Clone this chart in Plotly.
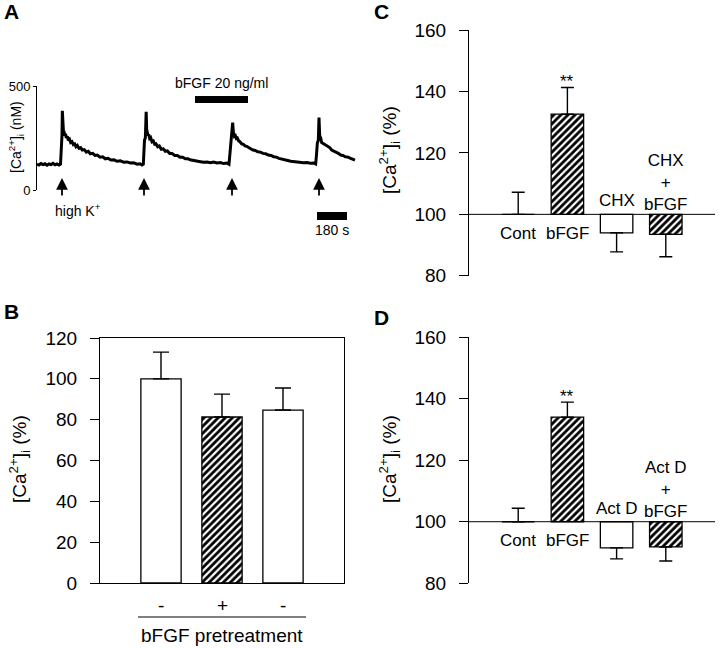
import plotly.graph_objects as go

W, H = 720, 648
FONT = "Liberation Sans, Arial, sans-serif"

# ---------------- Panel A data (trace) ----------------
trace_t = [0, 12, 24, 36, 48, 60, 72, 84, 96, 108, 120, 132, 141,
           144, 147, 150, 152, 154, 156, 159, 162, 166, 171, 176, 182, 188, 195, 202, 210, 218, 226, 234, 242,
           252, 262, 272, 284, 296, 308, 320, 334, 348, 362, 378, 394, 410, 426, 444, 462, 480, 500, 520, 540,
           560, 580, 600, 618, 630, 638,
           641, 645, 650, 655, 658, 662, 666, 670, 676, 682, 690, 698, 706, 714, 724, 734, 746, 758, 770, 782,
           796, 810, 826, 842, 858, 874, 890, 906, 924, 942, 960, 980, 1000, 1020, 1040, 1060, 1080, 1100,
           1120, 1140, 1152,
           1156, 1160, 1166, 1174, 1179, 1184, 1190, 1196, 1202, 1210, 1218, 1228, 1238, 1248, 1258, 1270,
           1282, 1296, 1310, 1324, 1340, 1356, 1372, 1388, 1404, 1420, 1436, 1452, 1468, 1486, 1504, 1522,
           1540, 1560, 1580, 1600, 1620, 1640, 1660, 1672,
           1677, 1682, 1688, 1692, 1696, 1702, 1708, 1716, 1726, 1736, 1746, 1756, 1768, 1780, 1794, 1808,
           1822, 1836, 1850, 1866, 1882, 1898, 1908]
trace_ca = [124, 120, 127, 122, 126, 119, 125, 122, 128, 121, 125, 120, 124,
            170, 245, 265, 381, 300, 292, 276, 282, 262, 270, 250, 258, 238, 244, 228, 232, 218, 222, 208, 214,
            200, 204, 192, 194, 182, 186, 174, 176, 166, 168, 158, 160, 150, 152, 144, 145, 138, 140, 134, 135,
            130, 131, 124, 126, 120, 124,
            175, 240, 250, 376, 290, 280, 262, 268, 248, 252, 232, 236, 220, 222, 208, 212, 196, 198, 186, 188,
            176, 176, 166, 166, 158, 158, 150, 150, 144, 142, 138, 136, 133, 135, 131, 134, 130, 132,
            127, 130, 124,
            160, 230, 255, 324, 270, 258, 262, 248, 250, 236, 232, 222, 220, 212, 210, 202,
            198, 192, 190, 184, 182, 176, 174, 168, 166, 160, 158, 152, 150, 145, 142, 138,
            136, 134, 134, 131, 132, 129, 130, 125,
            170, 225, 240, 348, 262, 250, 228, 224, 216, 212, 205, 204, 192, 188, 180, 176,
            168, 166, 160, 158, 152, 148, 144]
stim_t = [150, 642, 1170, 1692]          # high K+ application (s)
bfgf_window = [948, 1266]                # bFGF 20 ng/ml (s)
scale_bar = [1680, 1860]                 # 180 s

# ---------------- Panel B data ----------------
b_x = [1, 2, 3]
b_ticks = ["-", "+", "-"]
b_vals = [100, 81.3, 84.7]
b_err = [13.1, 11.2, 10.8]
b_hatch = [False, True, False]

# ---------------- Panel C data ----------------
c_x = [1, 2, 3, 4]
c_labels = ["Cont", "bFGF", "CHX", "CHX<br>+<br>bFGF"]
c_vals = [100, 132.6, 94.0, 93.5]
c_err = [7.2, 8.7, 6.2, 7.3]
c_hatch = [False, True, False, True]

# ---------------- Panel D data ----------------
d_x = [1, 2, 3, 4]
d_labels = ["Cont", "bFGF", "Act D", "Act D<br>+<br>bFGF"]
d_vals = [100, 134.0, 91.5, 91.8]
d_err = [4.4, 4.9, 3.6, 4.6]
d_hatch = [False, True, False, True]


def px(x):
    return x / W


def py(y):
    return 1 - y / H


fig = go.Figure()

# Panel A trace
fig.add_trace(go.Scatter(x=trace_t, y=trace_ca, mode="lines",
                         line=dict(color="black", width=3), xaxis="x", yaxis="y",
                         hoverinfo="skip"))


def add_bars(xs, vals, errs, hatch, xa, ya, base, capw):
    for xi, v, e, h in zip(xs, vals, errs, hatch):
        d = v - base
        up = e if d >= 0 else 0
        dn = 0 if d >= 0 else e
        fig.add_trace(go.Bar(
            x=[xi], y=[d], base=base, width=0.66, xaxis=xa, yaxis=ya,
            marker=dict(color="white", line=dict(color="black", width=1.3),
                        pattern=dict(shape="/" if h else "", fgcolor="black", fgopacity=1,
                                     bgcolor="white", size=5, solidity=0.55)),
            error_y=dict(type="data", symmetric=False, array=[up], arrayminus=[dn],
                         color="black", thickness=1.4, width=capw),
        ))


add_bars(b_x, b_vals, b_err, b_hatch, "x2", "y2", 0, 8)
add_bars(c_x, c_vals, c_err, c_hatch, "x3", "y3", 100, 6.5)
add_bars(d_x, d_vals, d_err, d_hatch, "x4", "y4", 100, 6.5)

axis_common = dict(showgrid=False, zeroline=False, linecolor="black", linewidth=1,
                   tickcolor="black", tickfont=dict(family=FONT, size=19, color="black"))

layout = dict(
    width=W, height=H, margin=dict(l=0, r=0, t=0, b=0, autoexpand=False),
    paper_bgcolor="white", plot_bgcolor="rgba(0,0,0,0)", showlegend=False,
    font=dict(family=FONT, color="black"), barmode="overlay",
    xaxis=dict(domain=[px(37), px(360)], range=[0, 1938], visible=False, anchor="y"),
    yaxis=dict(domain=[py(190), py(86)], range=[0, 500], showline=True, ticks="outside",
               ticklen=3, tickvals=[0, 500], anchor="x",
               **{**axis_common, "tickfont": dict(family=FONT, size=13, color="black")}),
    xaxis2=dict(domain=[px(100), px(344)], range=[0, 4], showline=True, mirror=True,
                ticks="", showticklabels=False, anchor="y2", **axis_common),
    yaxis2=dict(domain=[py(583), py(338)], range=[0, 120], showline=True, mirror=True,
                ticks="outside", ticklen=9, dtick=20, anchor="x2", ticklabelstandoff=9,
                **axis_common),
    xaxis3=dict(domain=[px(469), px(715)], range=[0, 5], visible=False, anchor="y3"),
    yaxis3=dict(domain=[py(275.8), py(30)], range=[80, 160], showline=True,
                ticks="outside", ticklen=9, dtick=20, anchor="x3", ticklabelstandoff=9,
                **axis_common),
    xaxis4=dict(domain=[px(469), px(715)], range=[0, 5], visible=False, anchor="y4"),
    yaxis4=dict(domain=[py(583.2), py(337.3)], range=[80, 160], showline=True,
                ticks="outside", ticklen=9, dtick=20, anchor="x4", ticklabelstandoff=9,
                **axis_common),
)
fig.update_layout(**layout)

shapes = []
annotations = []


def note(**kw):
    d = dict(showarrow=False, xanchor="center", yanchor="middle")
    d.update(kw)
    annotations.append(d)


# Panel letters
for letter, (lx, ly) in zip("ABCD", [(11, 12), (11, 311), (381, 12), (381, 317)]):
    note(text="<b>%s</b>" % letter, x=px(lx), y=py(ly), xref="paper", yref="paper",
         font=dict(size=21, family=FONT))

ca_title = "[Ca<sup>2+</sup>]<sub>i</sub>"
# Axis titles
note(text=ca_title + " (nM)", x=px(16), y=py(137), xref="paper", yref="paper",
     textangle=-90, font=dict(size=14, family=FONT))
note(text=ca_title + " (%)", x=px(19), y=py(459), xref="paper", yref="paper",
     textangle=-90, font=dict(size=19, family=FONT))
note(text=ca_title + " (%)", x=px(389), y=py(150), xref="paper", yref="paper",
     textangle=-90, font=dict(size=19, family=FONT))
note(text=ca_title + " (%)", x=px(389), y=py(459), xref="paper", yref="paper",
     textangle=-90, font=dict(size=19, family=FONT))

# Panel A decorations
for t in stim_t:
    annotations.append(dict(text="", x=t, xref="x", y=py(178), yref="paper", showarrow=True,
                            ax=0, ay=19, axref="pixel", ayref="pixel", arrowhead=2, arrowsize=1.3,
                            arrowwidth=1.8, arrowcolor="black"))
note(text="high K<sup>+</sup>", x=stim_t[0], xref="x", y=py(210), yref="paper",
     xshift=16, font=dict(size=14, family=FONT))
shapes.append(dict(type="rect", xref="x", yref="paper", x0=bfgf_window[0], x1=bfgf_window[1],
                   y0=py(103), y1=py(96), fillcolor="black", line=dict(width=0)))
note(text="bFGF 20 ng/ml", x=(bfgf_window[0] + bfgf_window[1]) / 2, xref="x",
     y=py(83), yref="paper", font=dict(size=14, family=FONT))
shapes.append(dict(type="rect", xref="x", yref="paper", x0=scale_bar[0], x1=scale_bar[1],
                   y0=py(220), y1=py(212), fillcolor="black", line=dict(width=0)))
note(text="%d s" % (scale_bar[1] - scale_bar[0]), x=(scale_bar[0] + scale_bar[1]) / 2,
     xref="x", y=py(230), yref="paper", font=dict(size=14, family=FONT))

# Panel B decorations
for xi, lab in zip(b_x, b_ticks):
    note(text=lab, x=xi, xref="x2", y=py(605), yref="paper", font=dict(size=19, family=FONT))
shapes.append(dict(type="line", xref="paper", yref="paper", x0=px(138), x1=px(306),
                   y0=py(617), y1=py(617), line=dict(color="black", width=1)))
note(text="bFGF pretreatment", x=px(222), y=py(635), xref="paper", yref="paper",
     font=dict(size=19, family=FONT))

# Panels C and D decorations
for xa, ya, xs, vals, labels, star_y in [("x3", "y3", c_x, c_vals, c_labels, 143.2),
                                         ("x4", "y4", d_x, d_vals, d_labels, 140.9)]:
    shapes.append(dict(type="line", xref=xa + " domain", yref=ya, x0=0, x1=1, y0=100, y1=100,
                       line=dict(color="black", width=1)))
    for xi, v, lab in zip(xs, vals, labels):
        if v >= 100:
            yl = 93.8
        elif "<br>" in lab:
            yl = 110.5
        else:
            yl = 104.4
        note(text=lab, x=xi, xref=xa, y=yl, yref=ya, font=dict(size=17, family=FONT))
    note(text="**", x=xs[1], xref=xa, y=star_y, yref=ya, font=dict(size=17, family=FONT))

fig.update_layout(shapes=shapes, annotations=annotations)
fig.write_html("out.html", post_script="document.body.style.margin='0';",
               config={"displayModeBar": False})
